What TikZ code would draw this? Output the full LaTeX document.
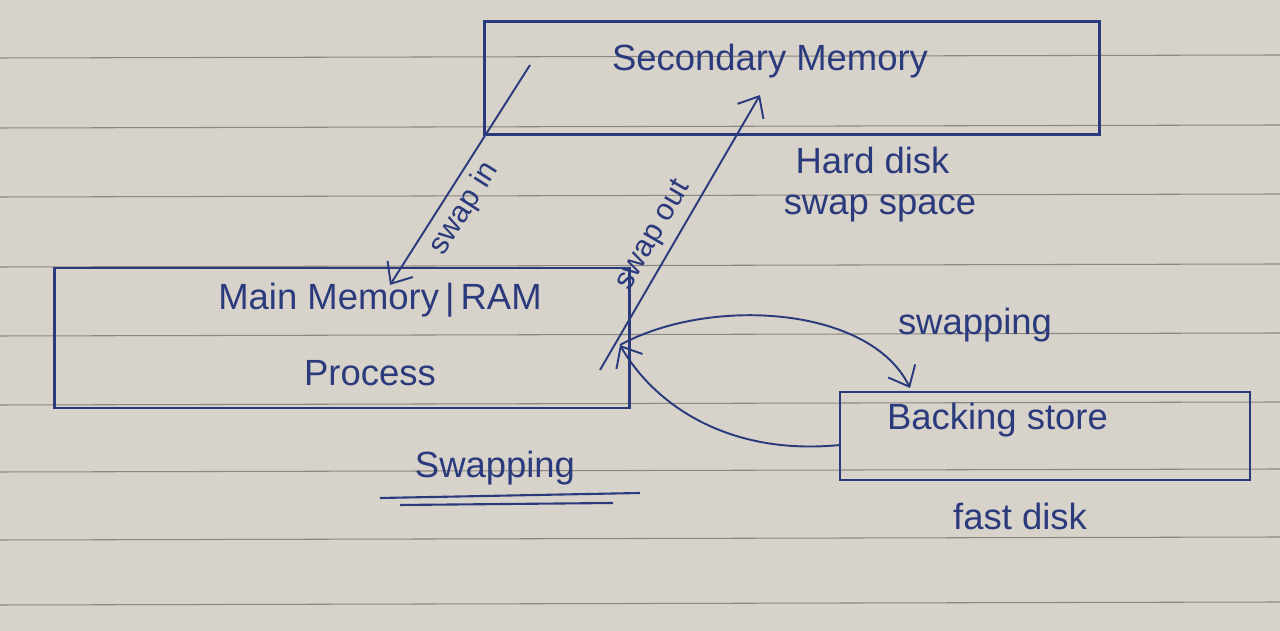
\documentclass[tikz,border=0pt]{standalone}
\usepackage{fontspec}
\setmainfont{Liberation Sans}
\usepackage{tikz}
\usetikzlibrary{arrows.meta, positioning}

\definecolor{ink}{HTML}{2B3A7C}
\definecolor{paper}{HTML}{D7D3CA}
\definecolor{rule}{HTML}{8C8880}

\begin{document}
\begin{tikzpicture}[
    memory box/.style={draw=ink, line width=1.2pt, inner sep=0pt},
    hand/.style={text=ink, font=\huge},
    small hand/.style={text=ink, font=\LARGE, inner sep=1pt},
    swap arrow/.style={draw=ink, line width=1.1pt, -{Straight Barb[length=3.5mm, width=6mm]}}
]
    % paper and its ruled lines
    \fill[paper] (0,0) rectangle (25.6,12.62);
    \useasboundingbox (0,0) rectangle (25.6,12.62);
    \foreach \y in {11.46, 10.06, 8.68, 7.28, 5.9, 4.52, 3.18, 1.82, 0.52}
        \draw[rule, line width=0.6pt] (0,\y) -- (25.6,\y+0.06);

    % boxes
    \node[memory box, minimum width=12.3cm, minimum height=2.26cm] (secmem) at (15.84,11.06) {};
    \node[memory box, minimum width=11.5cm, minimum height=2.8cm] (mainmem) at (6.84,5.86) {};
    \node[memory box, minimum width=8.2cm, minimum height=1.76cm] (backing) at (20.9,3.9) {};

    % texts
    \node[hand] (sectext) at (15.4,11.4) {Secondary Memory};
    \node[hand] (maintext) at (7.6,6.62) {Main Memory\,|\,RAM};
    \node[hand] (proctext) at (7.4,5.16) {Process};
    \node[hand] (backtext) at (19.95,4.22) {Backing store};
    \node[hand] (hardtext) at (17.45,9.42) {Hard disk};
    \node[hand] (spacetext) at (17.6,8.46) {swap space};
    \node[hand] (fasttext) at (20.4,2.3) {fast disk};
    \node[hand] (swaptext) at (19.5,6.12) {swapping};
    \node[hand] (title) at (9.9,3.26) {Swapping};
    \draw[ink, line width=1.2pt] (7.6,2.66) -- (12.8,2.76);
    \draw[ink, line width=1.2pt] (8.0,2.52) -- (12.26,2.56);

    % swap in / swap out
    \coordinate (intop) at (10.6,11.32);
    \coordinate (outfoot) at (12.0,5.22);
    \coordinate (outtop) at (15.2,10.72);
    \coordinate (meet) at (12.4,5.72);
    \coordinate (backtop) at (18.2,4.86);
    \coordinate (backleft) at (16.8,3.72);

    \draw[swap arrow] (intop) -- (7.8,6.92)
        node[pos=0.6, sloped, below=3pt, small hand] {swap in};
    \draw[swap arrow] (outfoot) -- (outtop)
        node[pos=0.45, sloped, above=3pt, small hand] {swap out};

    % swapping between RAM and backing store
    \draw[swap arrow] (meet) .. controls (14.2,6.7) and (17.4,6.5) .. (backtop);
    \draw[swap arrow] (backleft) .. controls (14.6,3.5) and (13.1,4.5) .. (meet);
\end{tikzpicture}
\end{document}
